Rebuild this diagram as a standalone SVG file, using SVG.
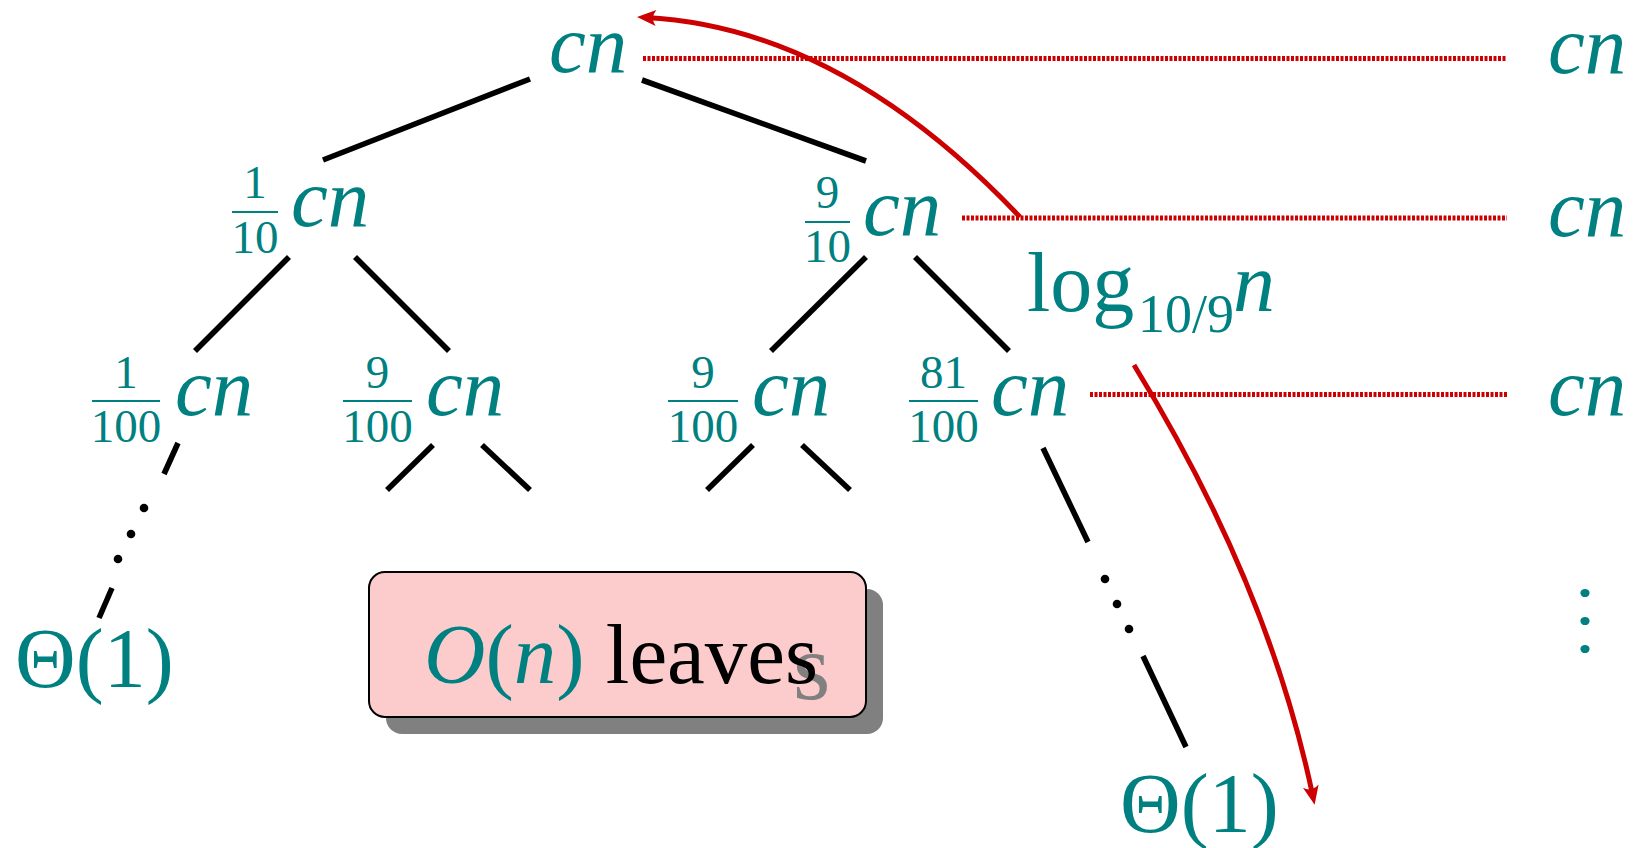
<svg xmlns="http://www.w3.org/2000/svg" width="1635" height="848" viewBox="0 0 1635 848">
<style>
.t{fill:#008080;font-family:"Liberation Serif","Times New Roman",serif}
.it{font-style:italic}
.cn{font-size:83px;font-style:italic}
.fr{font-size:47px;text-anchor:middle}
.bar{stroke:#008080;stroke-width:2}
.edge{stroke:#000;stroke-width:5.6;fill:none}
.dash{stroke:#cc0000;stroke-width:5;stroke-dasharray:3 1.5;fill:none}
.arr{stroke:#cc0000;stroke-width:5;fill:none;marker-end:url(#ah)}
.big{font-size:84px}
</style>
<defs>
<marker id="ah" markerUnits="userSpaceOnUse" viewBox="-14 -9 24 18" refX="0" refY="0" markerWidth="24" markerHeight="18" orient="auto">
<path d="M8,0 L-11,-8 Q-5,0 -11,8 Z" fill="#cc0000"/>
</marker>
</defs>
<rect width="1635" height="848" fill="#fff"/>

<g id="connectors">
<line class="edge" x1="530" y1="79" x2="323" y2="160"/>
<line class="edge" x1="642" y1="80" x2="866" y2="161"/>
<line class="edge" x1="289" y1="257" x2="195" y2="351"/>
<line class="edge" x1="355" y1="257" x2="449" y2="351"/>
<line class="edge" x1="866" y1="257" x2="771" y2="351"/>
<line class="edge" x1="915" y1="257" x2="1009" y2="351"/>
<line class="edge" x1="433" y1="445" x2="387" y2="490"/>
<line class="edge" x1="482" y1="445" x2="530" y2="490"/>
<line class="edge" x1="753" y1="445" x2="707" y2="490"/>
<line class="edge" x1="802" y1="445" x2="850" y2="490"/>
<line class="edge" x1="178" y1="443" x2="164" y2="474"/>
<line class="edge" x1="112" y1="588" x2="99" y2="618"/>
<line class="edge" x1="1043" y1="448" x2="1088" y2="542"/>
<line class="edge" x1="1143" y1="656" x2="1186" y2="747"/>
<g fill="#000">
<circle cx="144" cy="508" r="4.3"/><circle cx="131" cy="534" r="4.3"/><circle cx="118" cy="559" r="4.3"/>
<circle cx="1105" cy="579" r="4.3"/><circle cx="1117" cy="604" r="4.3"/><circle cx="1129" cy="629" r="4.3"/>
</g>
<g fill="#008080">
<ellipse cx="1585" cy="593" rx="4.6" ry="4.1"/><ellipse cx="1585" cy="621" rx="4.6" ry="4.1"/><ellipse cx="1585" cy="649" rx="4.6" ry="4.1"/>
</g>
<line class="dash" x1="643" y1="58.5" x2="1507" y2="58.5"/>
<line class="dash" x1="962" y1="218" x2="1507" y2="218"/>
<line class="dash" x1="1090" y1="394.5" x2="1507" y2="394.5"/>
<path class="arr" d="M1020,217 Q840,27 645,17.5"/>
<path class="arr" d="M1134,365 Q1269,585 1313,797"/>
</g>

<g id="n-root"><text class="t cn" x="549" y="72">cn</text></g>

<g id="n-l1">
<text class="t fr" x="255" y="198">1</text>
<line class="bar" x1="232" y1="212" x2="278" y2="212"/>
<text class="t fr" x="255" y="253">10</text>
<text class="t cn" x="291" y="226">cn</text>
</g>
<g id="n-r1">
<text class="t fr" x="827.5" y="208">9</text>
<line class="bar" x1="805" y1="222" x2="850" y2="222"/>
<text class="t fr" x="827.5" y="262">10</text>
<text class="t cn" x="863" y="235">cn</text>
</g>

<g id="n-ll">
<text class="t fr" x="126" y="388">1</text>
<line class="bar" x1="92" y1="401" x2="160" y2="401"/>
<text class="t fr" x="126" y="442">100</text>
<text class="t cn" x="175" y="415">cn</text>
</g>
<g id="n-lr">
<text class="t fr" x="377.5" y="388">9</text>
<line class="bar" x1="343" y1="401" x2="412" y2="401"/>
<text class="t fr" x="377.5" y="442">100</text>
<text class="t cn" x="426" y="415">cn</text>
</g>
<g id="n-rl">
<text class="t fr" x="703" y="388">9</text>
<line class="bar" x1="668" y1="401" x2="738" y2="401"/>
<text class="t fr" x="703" y="442">100</text>
<text class="t cn" x="752" y="415">cn</text>
</g>
<g id="n-rr">
<text class="t fr" x="943.5" y="388">81</text>
<line class="bar" x1="909" y1="401" x2="978" y2="401"/>
<text class="t fr" x="943.5" y="442">100</text>
<text class="t cn" x="991" y="415">cn</text>
</g>

<g id="n-leaf-left"><text class="t big" x="15" y="687">Θ(1)</text></g>
<g id="n-leaf-right"><text class="t big" x="1120" y="832">Θ(1)</text></g>

<g id="sum-1"><text class="t cn" x="1548" y="73">cn</text></g>
<g id="sum-2"><text class="t cn" x="1548" y="236">cn</text></g>
<g id="sum-3"><text class="t cn" x="1548" y="415">cn</text></g>

<g id="height-label">
<text class="t big" x="1027" y="311">log</text>
<text class="t" x="1138" y="332" font-size="54">10/9</text>
<text class="t big it" x="1233" y="311">n</text>
</g>

<g id="leaves-box">
<rect x="386" y="589" width="497" height="145" rx="16" fill="#808080"/>
<rect x="369" y="572" width="497" height="145" rx="16" fill="#fccccc" stroke="#000" stroke-width="2"/>
<text x="793" y="699" font-family="Liberation Serif, serif" font-size="96" fill="#808080">s</text>
<text x="424" y="683" font-family="Liberation Serif, serif" font-size="85"><tspan fill="#008080" font-style="italic">O</tspan><tspan fill="#008080">(</tspan><tspan fill="#008080" font-style="italic">n</tspan><tspan fill="#008080">)</tspan><tspan fill="#000"> leaves</tspan></text>
</g>
</svg>
